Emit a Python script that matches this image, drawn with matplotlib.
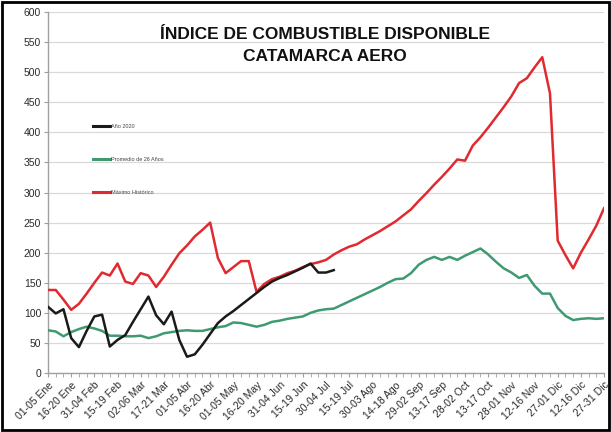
import matplotlib
matplotlib.use("Agg")
import matplotlib.pyplot as plt
from matplotlib.patches import Rectangle

plt.rcParams['font.family'] = ['Liberation Sans', 'DejaVu Sans']

tick_labels = ["01-05 Ene", "16-20 Ene", "31-04 Feb", "15-19 Feb", "02-06 Mar", "17-21 Mar",
               "01-05 Abr", "16-20 Abr", "01-05 May", "16-20 May", "31-04 Jun", "15-19 Jun",
               "30-04 Jul", "15-19 Jul", "30-03 Ago", "14-18 Ago", "29-02 Sep", "13-17 Sep",
               "28-02 Oct", "13-17 Oct", "28-01 Nov", "12-16 Nov", "27-01 Dic", "12-16 Dic",
               "27-31 Dic"]

anio_2020 = [110, 99, 106, 58, 43, 70, 94, 97, 44, 55, 63, 85, 106, 127, 96, 81, 102, 55, 27, 31,
             47, 65, 83, 94, 103, 113, 123, 133, 143, 152, 158, 163, 169, 175, 182, 167, 167, 171]

promedio_26 = [71, 69, 61, 68, 73, 77, 74, 70, 62, 62, 61, 61, 62, 58, 61, 66, 68, 70, 71, 70,
               70, 73, 76, 78, 84, 83, 80, 77, 80, 85, 87, 90, 92, 94, 100, 104, 106, 107, 113, 119,
               125, 131, 137, 143, 150, 156, 157, 166, 180, 188, 193, 188, 193, 188, 195, 201, 207, 197,
               185, 174, 167, 158, 163, 145, 132, 132, 108, 95, 88, 90, 91, 90, 91]

maximo_hist = [138, 138, 122, 105, 115, 132, 150, 167, 162, 182, 152, 148, 166, 162, 143, 160, 180,
               199, 212, 227, 238, 250, 191, 166, 176, 186, 186, 135, 148, 156, 160, 166, 170, 176,
               181, 184, 188, 197, 204, 210, 214, 222, 229, 236, 244, 252, 262, 272, 286, 299, 313,
               326, 340, 355, 353, 378, 392, 408, 425, 442, 460, 482, 490, 508, 525, 465, 220, 196,
               174, 200, 222, 245, 274]

series_names = ["Año 2020", "Promedio de 26 Años", "Máximo Histórico"]

fig = plt.figure(figsize=(6.11, 4.32), dpi=100)
ax = fig.add_axes([0.0786, 0.1366, 0.91, 0.8354])

ax.plot(range(len(anio_2020)), anio_2020, color='#1a1a1a', lw=1.8, label=series_names[0], zorder=4)
ax.plot(range(len(promedio_26)), promedio_26, color='#3f9a72', lw=1.8, label=series_names[1], zorder=3)
ax.plot(range(len(maximo_hist)), maximo_hist, color='#e02a2f', lw=1.8, label=series_names[2], zorder=3)

ax.set_xlim(0, 72)
ax.set_ylim(0, 600)
ax.set_yticks(range(0, 601, 50))
ax.set_xticks(range(0, 73, 3))
ax.set_xticklabels(tick_labels, rotation=45, ha='right', rotation_mode='anchor')
ax.set_xticks(range(0, 73), minor=True)
ax.tick_params(axis='x', which='both', length=3, color='#a0a0a0', labelsize=7.5, labelcolor='#2a2a2a', pad=2)
ax.tick_params(axis='y', length=3, color='#a0a0a0', labelsize=7.5, labelcolor='#2a2a2a', pad=2)
ax.grid(axis='y', color='#d9d9d9', lw=0.9, zorder=0)
for s in ['top', 'right']:
    ax.spines[s].set_visible(False)
for s in ['left', 'bottom']:
    ax.spines[s].set_color('#a0a0a0')
    ax.spines[s].set_linewidth(1.0)

# white legend area covering gridlines
ax.add_patch(Rectangle((0.036, 270 / 600), 0.255, 165 / 600, transform=ax.transAxes,
                       facecolor='white', edgecolor='none', zorder=1))

leg = fig.legend(*ax.get_legend_handles_labels(), loc='upper left',
                 bbox_to_anchor=(93 / 611, 1 - 124 / 432), fontsize=4.0, frameon=False,
                 labelspacing=5.0, handlelength=3.1, handletextpad=0.2, borderpad=0.0,
                 borderaxespad=0.0)
for t in leg.get_texts():
    t.set_color('#444444')
for h in leg.get_lines():
    h.set_linewidth(2.2)

fig.text(0.532, 0.938, "ÍNDICE DE COMBUSTIBLE DISPONIBLE\nCATAMARCA AERO", ha='center', va='top',
         fontsize=12.5, fontweight='bold', color='#111111', linespacing=1.6)

fig.patches.append(Rectangle((0.004, 0.005), 0.992, 0.99, transform=fig.transFigure,
                             fill=False, edgecolor='black', lw=2))

fig.savefig("out.png", dpi=100)
